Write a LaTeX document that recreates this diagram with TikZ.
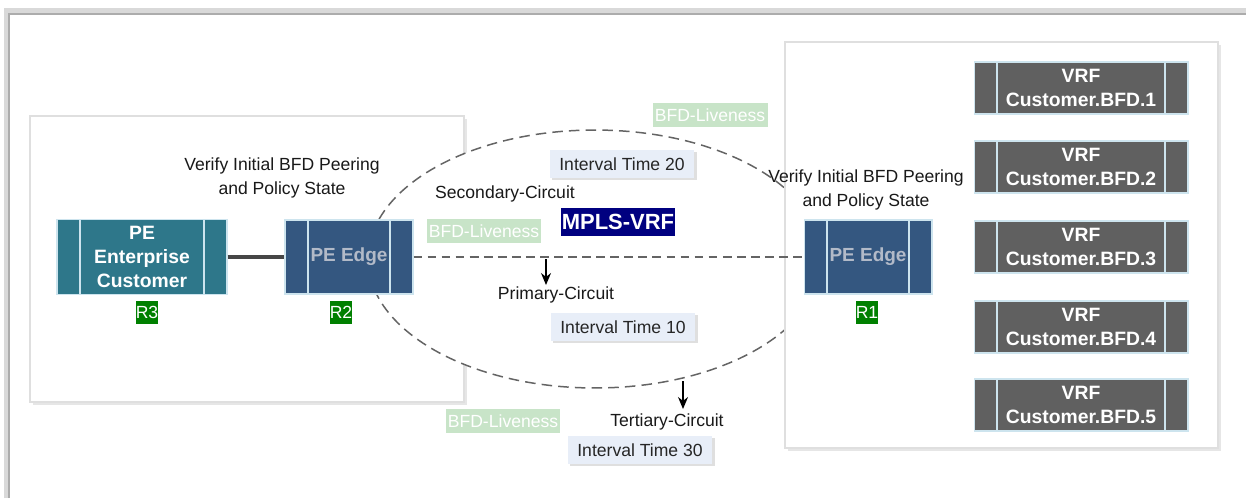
\documentclass[tikz,border=0pt]{standalone}
\usepackage{fontspec}
\setmainfont{Liberation Sans}
\usetikzlibrary{arrows.meta,shadows}
\definecolor{pecol}{RGB}{46,119,138}
\definecolor{edgecol}{RGB}{52,87,128}
\definecolor{edgetxt}{RGB}{178,186,200}
\definecolor{vrfcol}{RGB}{96,96,96}
\definecolor{divcol}{RGB}{205,228,238}
\definecolor{tagcol}{RGB}{0,128,0}
\definecolor{livecol}{RGB}{200,228,200}
\definecolor{navy}{RGB}{0,0,128}
\definecolor{ivlcol}{RGB}{232,238,248}
\definecolor{dashcol}{RGB}{100,100,100}
\tikzset{
  >={Stealth[length=2.4mm,width=2mm]},
  fs/.style   ={font=\fontsize{10}{13.5}\selectfont},
  fb/.style   ={font=\fontsize{11}{13.6}\selectfont\bfseries},
  box/.style  ={draw=divcol, line width=0.6pt, inner sep=0pt, align=center,
                path picture={\draw[divcol, line width=0.8pt]
                  ([xshift=0.46cm]path picture bounding box.north west) -- ([xshift=0.46cm]path picture bounding box.south west)
                  ([xshift=-0.46cm]path picture bounding box.north east) -- ([xshift=-0.46cm]path picture bounding box.south east);}},
  pe/.style   ={box, fb, fill=pecol, text=white, minimum width=3.4cm, minimum height=1.5cm},
  pedge/.style={box, font=\fontsize{10.8}{13}\selectfont\bfseries, fill=edgecol, text=edgetxt,
                minimum width=2.56cm, minimum height=1.48cm},
  vrf/.style  ={box, fb, fill=vrfcol, text=white, minimum width=4.28cm, minimum height=1.04cm},
  tag/.style  ={fs, fill=tagcol, text=white, inner sep=0pt, minimum width=0.44cm, minimum height=0.46cm},
  live/.style ={fs, fill=livecol, text=white, inner sep=0pt, minimum width=2.3cm, minimum height=0.47cm},
  ivl/.style  ={fs, fill=ivlcol, text=black!85, inner sep=0pt, minimum width=2.9cm, minimum height=0.57cm,
                drop shadow={shadow xshift=1.2pt, shadow yshift=-1.2pt, opacity=0.25}},
  lbl/.style  ={fs, align=center, text=black!90},
  panel/.style={draw=gray!25, line width=0.8pt, fill=white,
                drop shadow={shadow xshift=1.8pt, shadow yshift=-1.8pt, opacity=0.2}},
  ring/.style ={draw=dashcol, line width=0.85pt, dash pattern=on 6pt off 3.5pt, fill=white},
  link/.style ={draw=dashcol, line width=0.6pt, dash pattern=on 5pt off 3pt}
}
\begin{document}
\begin{tikzpicture}[x=0.02cm, y=-0.02cm]
\useasboundingbox (0,0) rectangle (1246,498);
\draw[gray!30, line width=3pt] (7,498) |- (1246,11);
\draw[gray!65, line width=1pt] (9,498) |- (1246,14);
\path[panel] (30,116) rectangle (464,402);
\path[ring] (595,259) ellipse [x radius=4.54cm, y radius=2.58cm];
\path[panel] (785,42) rectangle (1218,448);

\node[pe]    (pe3) at (142,257) {PE\\Enterprise\\Customer};
\node[pedge] (r2)  at (349,257) {PE Edge};
\node[pedge] (r1)  at (868,257) {PE Edge};
\node[tag]   (t3)  at (147,312) {R3};
\node[tag]   (t2)  at (341,312) {R2};
\node[tag]   (t1)  at (867,312) {R1};
\foreach \i/\y in {1/88,2/167,3/247,4/327,5/405}
  \node[vrf] (vrf\i) at (1081,\y) {VRF\\Customer.BFD.\i};

\node[lbl] (vl) at (282,178) {Verify Initial BFD Peering\\and Policy State};
\node[lbl] (vr) at (866,190) {Verify Initial BFD Peering\\and Policy State};
\node[lbl] (sec) at (505,194) {Secondary-Circuit};
\node[lbl] (pri) at (556,295) {Primary-Circuit};
\node[lbl] (ter) at (667,422) {Tertiary-Circuit};
\node[ivl] (i20) at (622,164) {Interval Time 20};
\node[ivl] (i10) at (623,327) {Interval Time 10};
\node[ivl] (i30) at (640,450) {Interval Time 30};
\node[live] (lv1) at (710,115) {BFD-Liveness};
\node[live] (lv2) at (484,231) {BFD-Liveness};
\node[live] (lv3) at (503,421) {BFD-Liveness};
\node[fill=navy, text=white, inner sep=0pt, minimum width=2.28cm, minimum height=0.56cm,
      font=\fontsize{12.5}{14}\selectfont\bfseries] (mpls) at (618,222) {MPLS-VRF};

\draw[dashcol!70!black, line width=2.4pt] (pe3) -- (r2);
\draw[link] (r2) -- (r1);
\coordinate (a1) at (546,259);
\coordinate (b1) at (546,285);
\coordinate (a2) at (683,381);
\coordinate (b2) at (683,409);
\draw[->, line width=0.7pt] (a1) -- (b1);
\draw[->, line width=0.7pt] (a2) -- (b2);
\end{tikzpicture}
\end{document}
